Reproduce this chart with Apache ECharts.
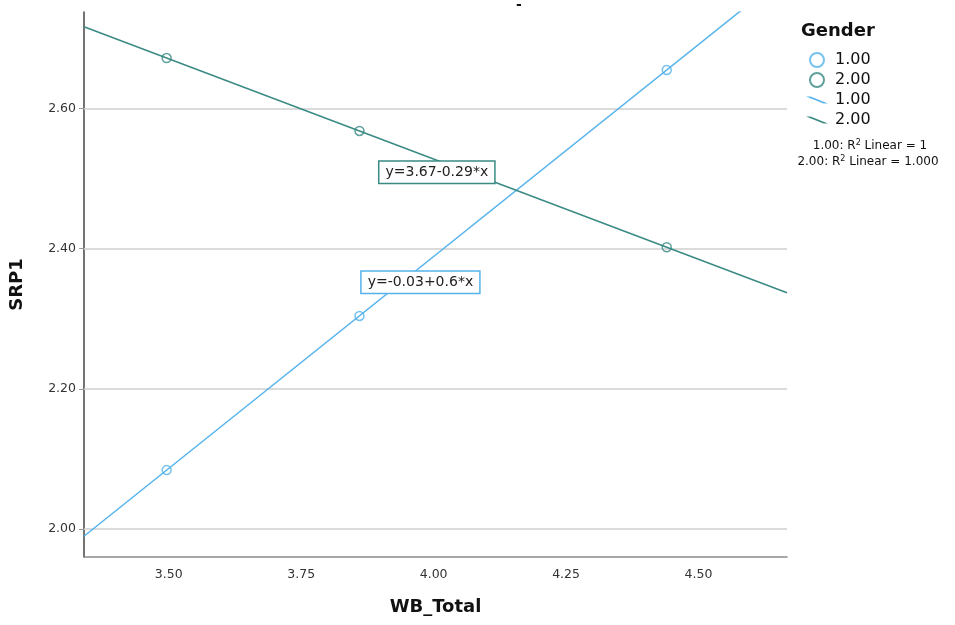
<!DOCTYPE html>
<html>
<head>
<meta charset="utf-8">
<script src="https://cdn.jsdelivr.net/npm/echarts@6/dist/echarts.min.js"></script>
<style>html,body{margin:0;padding:0;background:#fff}#c{width:955px;height:625px}</style>
</head>
<body>
<div id="c"></div>
<script>
// ---- data ----
const wbTotal = [3.496, 3.860, 4.440];
const srp1Gender1 = [2.084, 2.304, 2.655];
const srp1Gender2 = [2.672, 2.568, 2.402];
const genderLabels = ['1.00', '2.00'];
const xTicks = [3.50, 3.75, 4.00, 4.25, 4.50];
const yTicks = [2.00, 2.20, 2.40, 2.60];
const eqTexts = ['y=-0.03+0.6*x', 'y=3.67-0.29*x'];
const eqAnchors = [[3.975, 2.352], [4.006, 2.509]];
const r2Texts = ['1', '1.000'];

const X_MIN = 3.34, X_MAX = 4.667, Y_MIN = 1.96, Y_MAX = 2.7377;
const C1 = '#55b3ea', C2 = '#3a8a84';
const FONT = 'DejaVu Sans';

function fit(xs, ys) {
  const n = xs.length;
  const mx = xs.reduce((a, b) => a + b, 0) / n;
  const my = ys.reduce((a, b) => a + b, 0) / n;
  let sxy = 0, sxx = 0;
  for (let i = 0; i < n; i++) { sxy += (xs[i] - mx) * (ys[i] - my); sxx += (xs[i] - mx) ** 2; }
  const b = sxy / sxx, a = my - b * mx;
  return [[X_MIN, a + b * X_MIN], [X_MAX, a + b * X_MAX]];
}
const pts = (xs, ys) => xs.map((x, i) => [x, ys[i]]);

const chart = echarts.init(document.getElementById('c'));
const lineIcon = 'path://M0,0 L4.5,0 L22,7 L17.5,7 Z';

function eqMark(text, coord, color) {
  return {
    symbol: 'rect', symbolSize: 1, itemStyle: { color: 'rgba(0,0,0,0)' }, silent: true,
    data: [{ coord: coord, value: text }],
    label: {
      show: true, position: 'inside', formatter: text,
      fontFamily: FONT, fontSize: 14, color: '#222',
      backgroundColor: '#fff', borderColor: color, borderWidth: 1.5, padding: [4, 6, 3, 6]
    }
  };
}

chart.setOption({
  animation: false,
  textStyle: { fontFamily: FONT },
  grid: { left: 82, right: 168, top: 12, bottom: 68, containLabel: false },
  title: {
    text: 'Gender', left: 796, top: 17,
    textStyle: { fontFamily: FONT, fontSize: 18, fontWeight: 'bold', color: '#111' }
  },
  legend: {
    orient: 'vertical', left: 801, top: 47, itemWidth: 22, itemHeight: 14, itemGap: 4,
    textStyle: { fontFamily: FONT, fontSize: 16, lineHeight: 14, color: '#111', padding: [0, 0, 0, 2] },
    data: [
      { name: genderLabels[0], icon: 'emptyCircle', itemStyle: { color: C1, borderColor: C1, borderWidth: 1.5 } },
      { name: genderLabels[1], icon: 'emptyCircle', itemStyle: { color: C2, borderColor: C2, borderWidth: 1.5 } },
      { name: genderLabels[0] + ' ', icon: lineIcon },
      { name: genderLabels[1] + ' ', icon: lineIcon }
    ]
  },
  xAxis: {
    type: 'value', min: X_MIN, max: X_MAX,
    name: 'WB_Total', nameLocation: 'middle', nameGap: 41,
    nameTextStyle: { fontFamily: FONT, fontSize: 18, fontWeight: 'bold', color: '#111' },
    axisLine: { show: true, lineStyle: { color: '#8a8a8a', width: 1.5 } },
    axisTick: { show: false },
    splitLine: { show: false },
    axisLabel: { customValues: xTicks, formatter: v => v.toFixed(2), fontSize: 12.5, color: '#333', margin: 11 }
  },
  yAxis: {
    type: 'value', min: Y_MIN, max: Y_MAX,
    name: 'SRP1', nameLocation: 'middle', nameGap: 58,
    nameTextStyle: { fontFamily: FONT, fontSize: 18, fontWeight: 'bold', color: '#111' },
    axisLine: { show: true, lineStyle: { color: '#444', width: 1.5 } },
    axisTick: { show: true, customValues: yTicks, length: 5, lineStyle: { color: '#999' } },
    splitLine: { show: false },
    axisLabel: { customValues: yTicks, formatter: v => v.toFixed(2), fontSize: 12.5, color: '#333', margin: 8 }
  },
  series: [
    {
      name: genderLabels[0], type: 'scatter', symbol: 'circle', symbolSize: 9,
      itemStyle: { color: 'rgba(0,0,0,0)', borderColor: C1, borderWidth: 1.5 }, data: pts(wbTotal, srp1Gender1), z: 5,
      markLine: {
        silent: true, symbol: 'none', label: { show: false },
        lineStyle: { color: '#cfcfcf', width: 1.5, type: 'solid' },
        data: yTicks.map(v => ({ yAxis: v })), z: 1
      }
    },
    {
      name: genderLabels[1], type: 'scatter', symbol: 'circle', symbolSize: 9,
      itemStyle: { color: 'rgba(0,0,0,0)', borderColor: C2, borderWidth: 1.5 }, data: pts(wbTotal, srp1Gender2), z: 5
    },
    {
      name: genderLabels[0] + ' ', type: 'line', showSymbol: false, clip: true, symbol: 'none',
      lineStyle: { color: C1, width: 1.5 }, itemStyle: { color: C1 },
      data: fit(wbTotal, srp1Gender1), z: 3,
      markPoint: eqMark(eqTexts[0], eqAnchors[0], C1)
    },
    {
      name: genderLabels[1] + ' ', type: 'line', showSymbol: false, clip: true, symbol: 'none',
      lineStyle: { color: C2, width: 1.5 }, itemStyle: { color: C2 },
      data: fit(wbTotal, srp1Gender2), z: 3,
      markPoint: eqMark(eqTexts[1], eqAnchors[1], C2)
    }
  ],
  graphic: [
    {
      type: 'text', left: 516, top: -2,
      style: { text: '-', font: 'bold 14px "DejaVu Sans"', fill: '#111' }
    },
    {
      type: 'text', x: 870, y: 146,
      style: {
        text: '{t|' + genderLabels[0] + ': R}{s|2}{t| Linear = ' + r2Texts[0] + '}',
        align: 'center', verticalAlign: 'middle',
        rich: { t: { fontFamily: FONT, fontSize: 12, fill: '#111' }, s: { fontFamily: FONT, fontSize: 8, fill: '#111', verticalAlign: 'top', padding: [0, 0, 6, 0] } }
      }
    },
    {
      type: 'text', x: 868, y: 162,
      style: {
        text: '{t|' + genderLabels[1] + ': R}{s|2}{t| Linear = ' + r2Texts[1] + '}',
        align: 'center', verticalAlign: 'middle',
        rich: { t: { fontFamily: FONT, fontSize: 12, fill: '#111' }, s: { fontFamily: FONT, fontSize: 8, fill: '#111', verticalAlign: 'top', padding: [0, 0, 6, 0] } }
      }
    }
  ]
});
</script>
</body>
</html>
